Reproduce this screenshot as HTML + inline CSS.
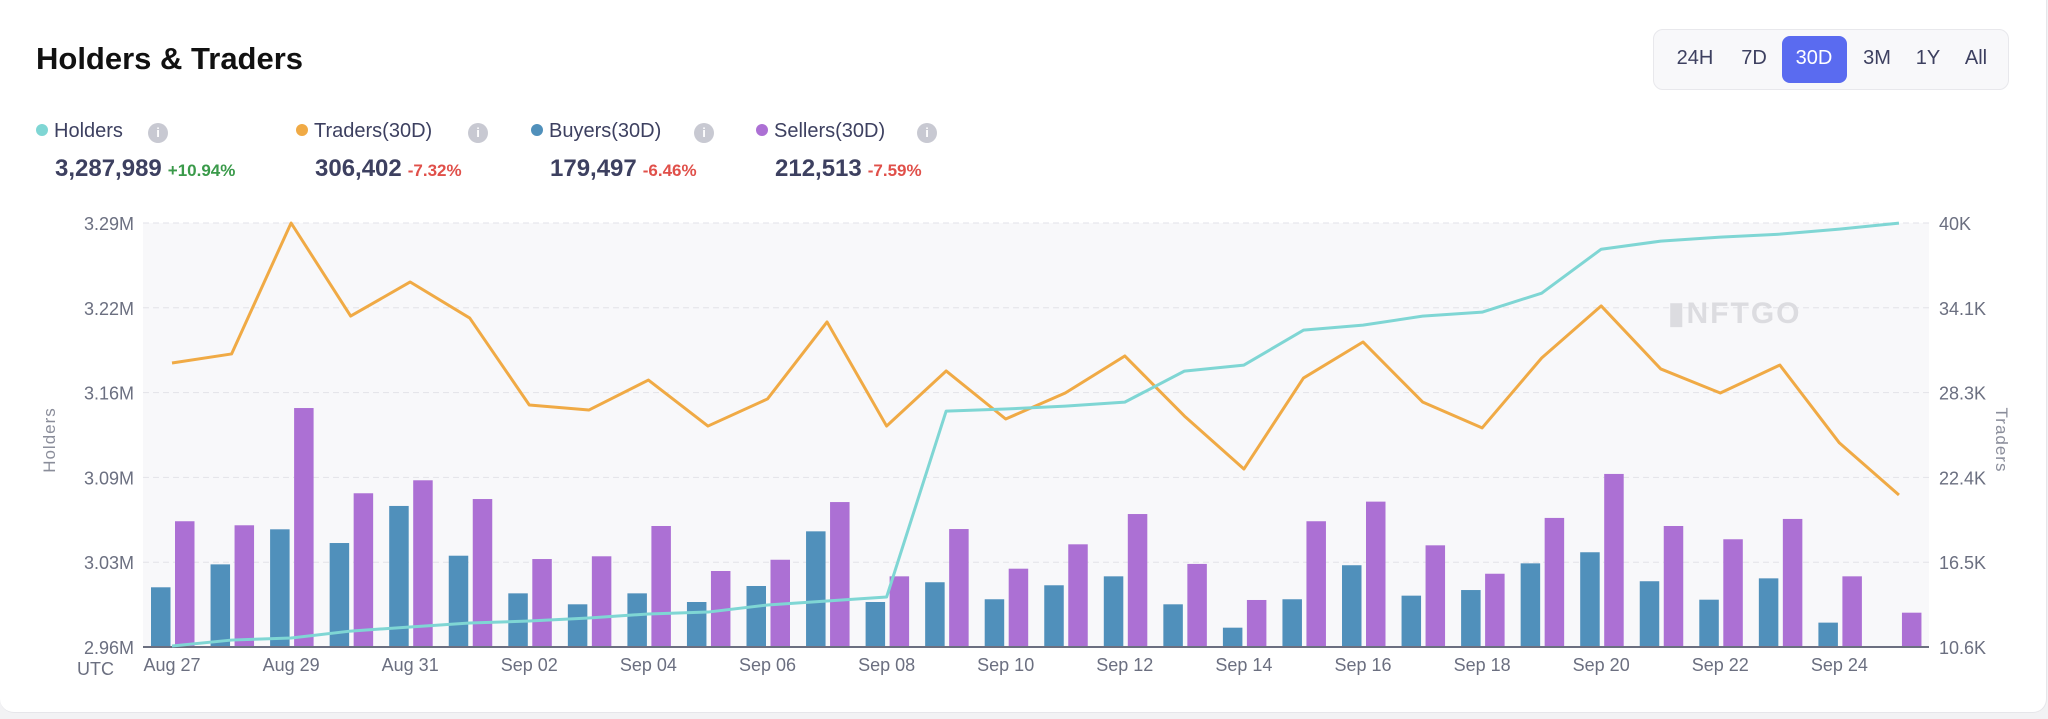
<!DOCTYPE html>
<html><head><meta charset="utf-8"><style>
body{margin:0;width:2048px;height:719px;background:#f2f2f4;font-family:"Liberation Sans",sans-serif;overflow:hidden;position:relative}
.card{position:absolute;left:0;top:0;width:2046px;height:712px;background:#fff;border-radius:0 0 14px 14px;border-right:1px solid #e6e6ea;border-bottom:1px solid #e6e6ea}
.t{position:absolute;white-space:nowrap}
</style></head><body>
<div class="card"></div>
<div class="t" style="left:36px;top:41px;font-size:31px;font-weight:bold;color:#111">Holders &amp; Traders</div>
<div style="position:absolute;left:1653px;top:29px;width:356px;height:61px;background:#f8f8fa;border:1px solid #e8e8ec;border-radius:10px;box-sizing:border-box"></div>
<div style="position:absolute;left:1782px;top:36px;width:65px;height:47px;background:#5a6bf0;border-radius:8px"></div>
<div class="t" style="left:1675px;top:47px;width:40px;text-align:center;font-size:20px;color:#3d4060">24H</div>
<div class="t" style="left:1734px;top:47px;width:40px;text-align:center;font-size:20px;color:#3d4060">7D</div>
<div class="t" style="left:1794px;top:47px;width:40px;text-align:center;font-size:20px;color:#fff">30D</div>
<div class="t" style="left:1857px;top:47px;width:40px;text-align:center;font-size:20px;color:#3d4060">3M</div>
<div class="t" style="left:1908px;top:47px;width:40px;text-align:center;font-size:20px;color:#3d4060">1Y</div>
<div class="t" style="left:1956px;top:47px;width:40px;text-align:center;font-size:20px;color:#3d4060">All</div>

<div id="legend"></div>

<svg id="chart" width="2048" height="719" style="position:absolute;left:0;top:0"></svg>

<script>
const dates=["Aug 27","Aug 28","Aug 29","Aug 30","Aug 31","Sep 01","Sep 02","Sep 03","Sep 04","Sep 05","Sep 06","Sep 07","Sep 08","Sep 09","Sep 10","Sep 11","Sep 12","Sep 13","Sep 14","Sep 15","Sep 16","Sep 17","Sep 18","Sep 19","Sep 20","Sep 21","Sep 22","Sep 23","Sep 24","Sep 25"];
const holders=[2.9608,2.9654,2.967,2.9724,2.9756,2.9787,2.9802,2.9826,2.9857,2.9872,2.9927,2.9958,2.9989,3.1436,3.1452,3.1475,3.1506,3.1747,3.1794,3.2066,3.2105,3.2175,3.2206,3.2354,3.2696,3.2759,3.279,3.2813,3.2852,3.2899];
const traders=[30.29,30.92,40.0,33.55,35.91,33.41,27.38,27.03,29.11,25.92,27.80,33.14,25.92,29.74,26.41,28.21,30.78,26.62,22.94,29.25,31.75,27.59,25.79,30.64,34.25,29.88,28.21,30.15,24.75,21.14];
const buyers=[14.74,16.33,18.76,17.81,20.38,16.93,14.32,13.56,14.32,13.72,14.83,18.62,13.72,15.09,13.91,14.88,15.50,13.56,11.94,13.91,16.27,14.16,14.55,16.40,17.17,15.16,13.88,15.36,12.29,null];
const sellers=[19.32,19.04,27.17,21.26,22.16,20.86,16.70,16.89,18.99,15.87,16.65,20.65,15.50,18.78,16.03,17.72,19.82,16.36,13.86,19.32,20.68,17.65,15.68,19.55,22.60,18.99,18.07,19.48,15.50,12.98];
const leftTicks=["2.96M","3.03M","3.09M","3.16M","3.22M","3.29M"];
const rightTicks=["10.6K","16.5K","22.4K","28.3K","34.1K","40K"];
const legendNames=["Holders","Traders(30D)","Buyers(30D)","Sellers(30D)"];
const legendValues=["3,287,989","306,402","179,497","212,513"];
const legendChanges=["+10.94%","-7.32%","-6.46%","-7.59%"];

const L=143,R=1929,T=223,B=647;
const x0=172,dx=59.55;
const xs=i=>x0+i*dx;
const yL=v=>B-(v-2.96)/(3.29-2.96)*(B-T);
const yR=v=>B-(v-10.6)/(40-10.6)*(B-T);
const svg=document.getElementById('chart');
const NS="http://www.w3.org/2000/svg";
function mk(tag,attrs,parent){const e=document.createElementNS(NS,tag);for(const k in attrs)e.setAttribute(k,attrs[k]);(parent||svg).appendChild(e);return e;}

const bg=mk('rect',{x:L,y:T,width:R-L,height:B-T,fill:'#f8f8fa'});



for(let i=0;i<6;i++){
  const y=B-i*(B-T)/5;
  if(i>0){const g=mk('line',{x1:L,x2:R,y1:y,y2:y,stroke:'#e2e2e8','stroke-dasharray':'6 4','stroke-width':1});
  
  }
  const tl=mk('text',{x:134,y:y+7,'text-anchor':'end','font-size':18,fill:'#6b6f80'});tl.textContent=leftTicks[i];
  
  
  const tr=mk('text',{x:1939,y:y+7,'font-size':18,fill:'#6b6f80'});tr.textContent=rightTicks[i];
  
  
}
const wm=mk('text',{x:1668,y:323,'font-size':30,'font-weight':'bold',fill:'#dcdce0','letter-spacing':2});wm.textContent="▮NFTGO";



dates.forEach((d,i)=>{
  const cx=xs(i);
  if(buyers[i]!=null){const b=mk('rect',{x:cx-21,y:yR(buyers[i]),width:19.5,height:B-yR(buyers[i]),fill:'#5090bb'});
  
  }
  if(sellers[i]!=null){const s=mk('rect',{x:cx+3,y:yR(sellers[i]),width:19.5,height:B-yR(sellers[i]),fill:'#ac70d4'});
  
  }
  if(i%2===0){const t=mk('text',{x:cx,y:671,'text-anchor':'middle','font-size':18,fill:'#6b6f80'});t.textContent=d;
  
  }
});
const ax=mk('line',{x1:L,x2:R,y1:B,y2:B,stroke:'#6b6f80','stroke-width':2});


const utc=mk('text',{x:77,y:675,'font-size':18,fill:'#6b6f80'});utc.textContent="UTC";



const tp=mk('polyline',{points:traders.map((v,i)=>xs(i)+','+yR(v)).join(' '),fill:'none',stroke:'#f0aa45','stroke-width':3,'stroke-linejoin':'round'});


const hp=mk('polyline',{points:holders.map((v,i)=>xs(i)+','+yL(v)).join(' '),fill:'none',stroke:'#7fd6d4','stroke-width':3,'stroke-linejoin':'round'});



const yt1=mk('text',{x:0,y:0,'font-size':17,fill:'#8a8d9a','text-anchor':'middle',transform:'translate(55,440) rotate(-90)','letter-spacing':1});yt1.textContent="Holders";


const yt2=mk('text',{x:0,y:0,'font-size':17,fill:'#8a8d9a','text-anchor':'middle',transform:'translate(1996,440) rotate(90)','letter-spacing':1});yt2.textContent="Traders";



// legend
const leg=document.getElementById('legend');
const lcol=['#7fd6d4','#f0aa45','#5090bb','#ac70d4'];
const lx=[36,296,531,756];
const ix=[158,478,704,927];
legendNames.forEach((n,i)=>{
  const e=document.createElement('div');
  e.className='t';
  
  
  e.style.cssText=`left:${lx[i]}px;top:120px;font-size:20px;color:#3d4060`;
  e.innerHTML=`<span style="display:inline-block;width:12px;height:12px;border-radius:50%;background:${lcol[i]};margin-right:6px;vertical-align:1px"></span>${n}`;
  leg.appendChild(e);
  const ic=document.createElement('div');
  ic.className='t';
  
  
  ic.style.cssText=`left:${ix[i]-10}px;top:123px;width:20px;height:20px;border-radius:50%;background:#c8c9d2;color:#fff;font-size:13px;font-weight:bold;text-align:center;line-height:20px`;
  ic.textContent='i';
  leg.appendChild(ic);
  const v=document.createElement('div');
  v.className='t';
  
  
  v.style.cssText=`left:${lx[i]+19}px;top:155px;font-size:24px;font-weight:bold;color:#3d4060`;
  v.textContent=legendValues[i];
  const c=document.createElement('span');
  
  
  c.style.cssText=`margin-left:6px;font-size:17px;font-weight:bold;color:${legendChanges[i][0]==='+'?'#3a9a4a':'#e0504a'}`;
  c.textContent=legendChanges[i];
  v.appendChild(c);
  leg.appendChild(v);
});
</script>
</body></html>
